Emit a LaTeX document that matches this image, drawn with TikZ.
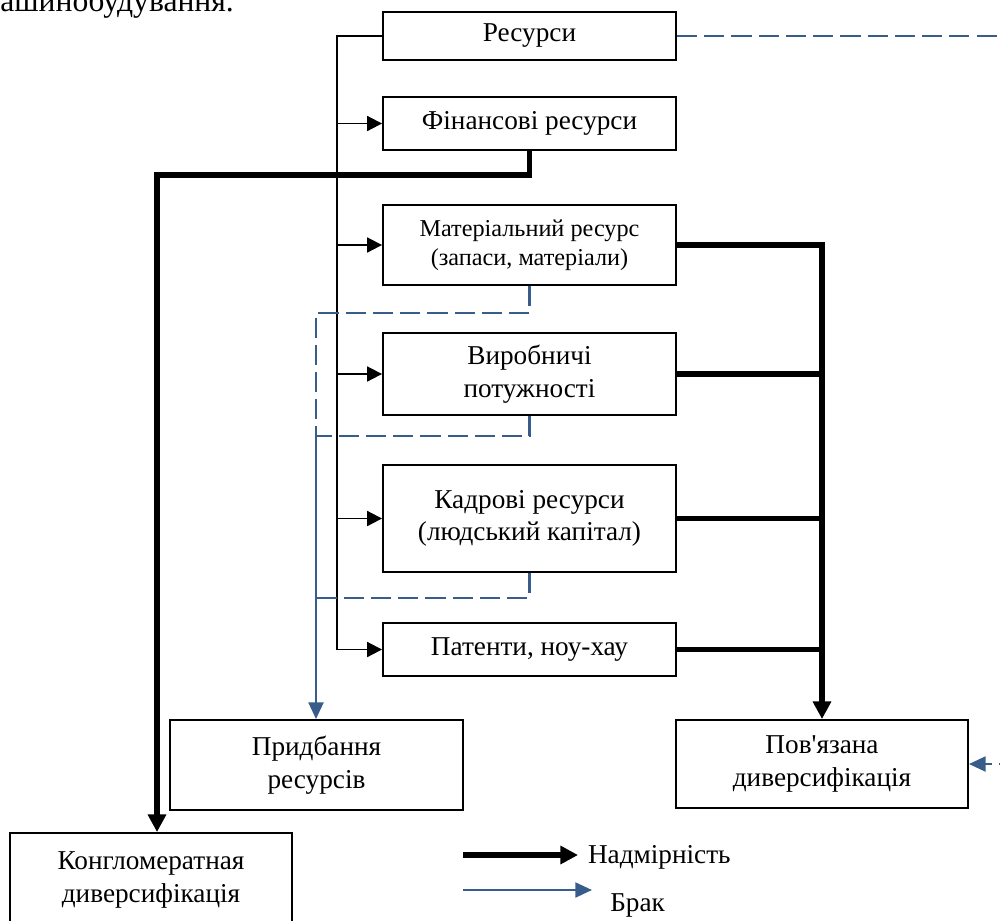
\documentclass[tikz,border=0pt]{standalone}
\usepackage{fontspec}
\setmainfont{Liberation Serif}[Ligatures=TeXOff]
\usetikzlibrary{arrows.meta, positioning}
\definecolor{lackblue}{RGB}{56,93,138}

\begin{document}
\begin{tikzpicture}[x=0.02cm, y=-0.02cm,
  every node/.style={font=\fontsize{15.5}{18.5}\selectfont},
  box/.style={draw, line width=1.1pt, align=center, minimum width=5.86cm, inner sep=0pt},
  feed/.style={line width=1.1pt, -{Triangle[length=8.5pt, width=8.5pt]}},
  surplus/.style={line width=3.2pt},
  surplusarr/.style={surplus, -{Triangle[length=10pt, width=10pt]}},
  lack/.style={lackblue, line width=1.4pt, dash pattern=on 11.5pt off 4pt},
  lackarr/.style={lackblue, line width=1.4pt, -{Triangle[length=9.5pt, width=8.5pt]}}]
  \useasboundingbox (0,0) rectangle (1000,920);
  % heading line, cut by the page
  \node[anchor=base west, inner sep=0pt, font=\fontsize{18}{20}\selectfont] (head) at (0,11) {ашинобудування.};
  % resources
  \node[box, minimum height=0.96cm] (res) at (529.5,36) {Ресурси};
  \node[box, minimum height=1.06cm] (fin) at (529.5,123.5) {Фінансові ресурси};
  \node[box, minimum height=1.6cm, font=\fontsize{13.8}{16.5}\selectfont] (mat) at (529.5,245) {Матеріальний ресурс\\(запаси, матеріали)};
  \node[box, minimum height=1.64cm] (vyr) at (529.5,374) {Виробничі\\потужності};
  \node[box, minimum height=2.14cm] (kad) at (529.5,518.5) {Кадрові ресурси\\(людський капітал)};
  \node[box, minimum height=1.06cm] (pat) at (529.5,649.5) {Патенти, ноу-хау};
  % outcomes
  \node[box, minimum height=1.8cm] (prid) at (316.5,765) {Придбання\\ресурсів};
  \node[box, minimum width=5.84cm, minimum height=1.76cm] (povy) at (822,764) {Пов'язана\\диверсифікація};
  \node[box, minimum width=5.64cm, minimum height=1.88cm] (kong) at (151,880) {Конгломератная\\диверсифікація};
  % thin feed line
  \coordinate (bus) at (337,36);
  \draw[feed] (res.west) -- (bus) |- (pat.west);
  \foreach \b in {fin, mat, vyr, kad}
    \draw[feed] (bus |- \b.west) -- (\b.west);
  % surplus
  \coordinate (kbend) at (157,175);
  \draw[surplusarr] (fin.south) |- (kbend) -- (kbend |- kong.north);
  \draw[surplusarr] (mat.east) -| (povy.north);
  \foreach \b in {vyr, kad, pat}
    \draw[surplus] (\b.east) -- (\b.east -| povy.north);
  % lack
  \coordinate (ljoin) at (316,436);
  \draw[lack] (mat.south) -- ++(0,27) -| (ljoin);
  \draw[lack] (vyr.south) |- (ljoin);
  \draw[lack] (kad.south) -- ++(0,25) -| (ljoin |- kad.south);
  \draw[lackarr] (ljoin) -- (ljoin |- prid.north);
  \draw[lack, -{Triangle[length=9.5pt, width=8.5pt]}] (res.east) -- (1015,36) |- (povy.east);
  % legend
  \coordinate (sfrom) at (463,855);
  \node[anchor=west, inner xsep=5.5pt, inner ysep=0pt] (lsur) at (578,857) {Надмірність};
  \draw[surplusarr] (sfrom) -- (sfrom -| lsur.west);
  \coordinate (lfrom) at (463,890);
  \coordinate (lto) at (592,890);
  \node[anchor=west, inner sep=0pt] (llack) at (610,905) {Брак};
  \draw[lackarr] (lfrom) -- (lto);
\end{tikzpicture}
\end{document}
